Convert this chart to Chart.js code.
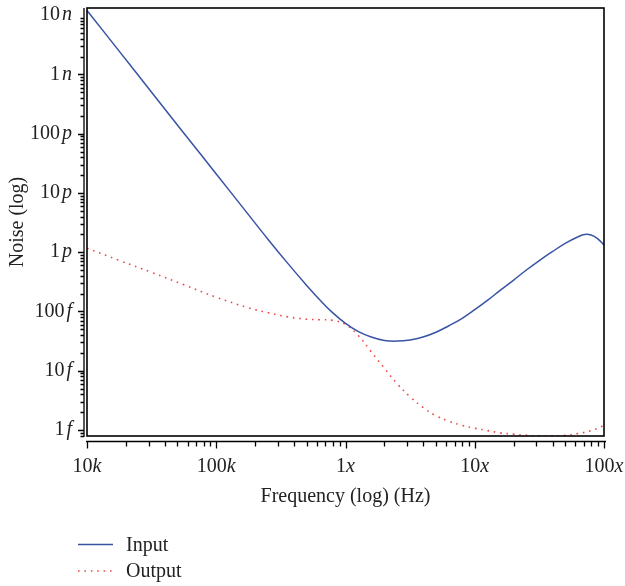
<!DOCTYPE html>
<html>
<head>
<meta charset="utf-8">
<title>Noise vs frequency</title>
<script src="https://cdn.jsdelivr.net/npm/chart.js@4"></script>
<style>
  html, body { margin: 0; padding: 0; background: #fff; }
</style>
</head>
<body>
<canvas id="noiseChart" width="625" height="586"></canvas>
<script>
// Frequency sample points (Hz)
const freqs = [1e4, 1.78e4, 3.16e4, 5.62e4, 1e5, 1.78e5, 2.51e5, 3.55e5, 5.01e5, 6.31e5,
    7.94e5, 1e6, 1.26e6, 1.58e6, 2.0e6, 2.51e6, 3.16e6, 3.98e6, 5.01e6, 6.31e6,
    7.94e6, 1e7, 1.26e7, 1.58e7, 2.0e7, 2.51e7, 3.16e7, 3.98e7, 5.01e7, 6.31e7,
    7.08e7, 7.94e7, 8.91e7, 1e8];

// Input-referred noise
const inputNoise = [1.20e-8, 2.45e-9, 5.01e-10, 1.02e-10, 2.09e-11, 4.27e-12, 1.66e-12, 6.61e-13, 2.75e-13, 1.58e-13,
    9.55e-14, 6.31e-14, 4.57e-14, 3.72e-14, 3.24e-14, 3.16e-14, 3.31e-14, 3.72e-14, 4.47e-14, 5.75e-14,
    7.59e-14, 1.07e-13, 1.55e-13, 2.29e-13, 3.39e-13, 5.01e-13, 7.24e-13, 1.02e-12, 1.41e-12, 1.82e-12,
    1.99e-12, 1.95e-12, 1.70e-12, 1.32e-12];

// Output noise
const outputNoise = [1.17e-12, 7.24e-13, 4.57e-13, 2.82e-13, 1.74e-13, 1.15e-13, 9.55e-14, 8.13e-14, 7.41e-14, 7.24e-14,
    7.08e-14, 6.03e-14, 3.89e-14, 2.09e-14, 1.10e-14, 6.03e-15, 3.63e-15, 2.40e-15, 1.74e-15, 1.41e-15,
    1.20e-15, 1.07e-15, 9.77e-16, 8.91e-16, 8.51e-16, 8.13e-16, 7.94e-16, 7.94e-16, 8.13e-16, 8.71e-16,
    9.12e-16, 9.77e-16, 1.07e-15, 1.20e-15];

// Tick labels: number part upright, unit prefix in italics
const xTickValues = [1e4, 1e5, 1e6, 1e7, 1e8];
const xTickNums = ['10', '100', '1', '10', '100'];
const xTickUnits = ['k', 'k', 'x', 'x', 'x'];

const yTickValues = [1e-15, 1e-14, 1e-13, 1e-12, 1e-11, 1e-10, 1e-9, 1e-8];
const yTickNums = ['1', '10', '100', '1', '10', '100', '1', '10'];
const yTickUnits = ['f', 'f', 'f', 'p', 'p', 'p', 'n', 'n'];

const FONT = '"Liberation Serif", "DejaVu Serif", serif';
const FONT_SIZE = 20;

function pointsOf(values) {
    return freqs.map((f, i) => ({ x: f, y: values[i] }));
}

// Draws frame, log ticks with mixed-style labels, and the stacked legend
const axesPlugin = {
    id: 'axesPlugin',
    afterDraw(chart) {
        const ctx = chart.ctx;
        const area = chart.chartArea;
        const xs = chart.scales.x;
        const ys = chart.scales.y;
        ctx.save();

        // plot frame
        ctx.strokeStyle = '#000';
        ctx.lineWidth = 1.6;
        ctx.strokeRect(area.left, area.top, area.right - area.left, area.bottom - area.top);

        // x axis line + ticks (offset below the frame)
        const xAxisY = area.bottom + 5.5;
        ctx.lineWidth = 1.3;
        ctx.beginPath();
        ctx.moveTo(area.left - 1, xAxisY);
        ctx.lineTo(area.right + 2, xAxisY);
        for (let d = 1e4; d <= 1e8; d *= 10) {
            for (let m = 1; m <= 9; m++) {
                const v = m * d;
                if (v > 1e8 * 1.0001) break;
                const px = Math.round(xs.getPixelForValue(v)) + 0.5;
                ctx.moveTo(px, xAxisY);
                ctx.lineTo(px, xAxisY + (m === 1 ? 7 : 5));
            }
        }
        ctx.stroke();

        // y axis line + ticks
        const yAxisX = area.left - 3;
        ctx.beginPath();
        ctx.moveTo(yAxisX, area.top);
        ctx.lineTo(yAxisX, area.bottom + 1);
        for (let d = 1e-16; d <= 1e-8; d *= 10) {
            for (let m = 1; m <= 9; m++) {
                const v = m * d;
                if (v < ys.min || v > ys.max) continue;
                const py = Math.round(ys.getPixelForValue(v)) + 0.5;
                ctx.moveTo(yAxisX, py);
                ctx.lineTo(yAxisX - (m === 1 ? 6 : 3.5), py);
            }
        }
        ctx.stroke();

        // labels
        ctx.fillStyle = '#222';
        ctx.textBaseline = 'middle';
        const regular = FONT_SIZE + 'px ' + FONT;
        const italic = 'italic ' + FONT_SIZE + 'px ' + FONT;

        xTickValues.forEach((v, i) => {
            const px = xs.getPixelForValue(v);
            ctx.font = regular;
            const wn = ctx.measureText(xTickNums[i]).width;
            ctx.font = italic;
            const wu = ctx.measureText(xTickUnits[i]).width;
            const start = px - (wn + wu) / 2;
            ctx.textAlign = 'left';
            ctx.font = regular;
            ctx.fillText(xTickNums[i], start, area.bottom + 31);
            ctx.font = italic;
            ctx.fillText(xTickUnits[i], start + wn, area.bottom + 31);
        });

        yTickValues.forEach((v, i) => {
            const py = ys.getPixelForValue(v);
            const right = area.left - 15;
            ctx.font = italic;
            const wu = ctx.measureText(yTickUnits[i]).width;
            ctx.textAlign = 'right';
            ctx.fillText(yTickUnits[i], right, py);
            ctx.font = regular;
            ctx.fillText(yTickNums[i], right - wu - 2, py);
        });

        // legend, one entry per row
        chart.data.datasets.forEach((ds, i) => {
            const y = 544.5 + i * 26.5;
            ctx.strokeStyle = ds.borderColor;
            ctx.lineWidth = ds.borderWidth;
            ctx.setLineDash(ds.borderDash || []);
            ctx.beginPath();
            ctx.moveTo(78, y);
            ctx.lineTo(113, y);
            ctx.stroke();
            ctx.setLineDash([]);
            ctx.fillStyle = '#222';
            ctx.font = regular;
            ctx.textAlign = 'left';
            ctx.fillText(ds.label, 126, y + 1);
        });

        ctx.restore();
    }
};

new Chart(document.getElementById('noiseChart'), {
    type: 'line',
    data: {
        datasets: [
            {
                label: 'Input',
                data: pointsOf(inputNoise),
                borderColor: '#3953a4',
                borderWidth: 1.5,
                pointRadius: 0,
                tension: 0.4,
                fill: false
            },
            {
                label: 'Output',
                data: pointsOf(outputNoise),
                borderColor: '#f04848',
                borderWidth: 1.6,
                borderDash: [1.6, 4.8],
                pointRadius: 0,
                tension: 0.4,
                fill: false
            }
        ]
    },
    options: {
        responsive: false,
        animation: false,
        layout: { padding: { left: 0, top: 8, right: 21, bottom: 76 } },
        plugins: {
            legend: { display: false },
            tooltip: { enabled: false }
        },
        scales: {
            x: {
                type: 'logarithmic',
                min: 1e4,
                max: 1e8,
                grid: { display: false },
                border: { display: false },
                ticks: { display: false },
                title: {
                    display: true,
                    text: 'Frequency (log) (Hz)',
                    color: '#222',
                    font: { family: FONT, size: FONT_SIZE },
                    padding: { top: 0, bottom: 1 }
                },
                afterFit(scale) { scale.height = 74; }
            },
            y: {
                type: 'logarithmic',
                min: 7.92e-16,
                max: 1.32e-8,
                grid: { display: false },
                border: { display: false },
                ticks: { display: false },
                title: {
                    display: true,
                    text: 'Noise (log)',
                    color: '#222',
                    font: { family: FONT, size: FONT_SIZE },
                    padding: { top: 6, bottom: 0 }
                },
                afterFit(scale) { scale.width = 87; }
            }
        }
    },
    plugins: [axesPlugin]
});
</script>
</body>
</html>
